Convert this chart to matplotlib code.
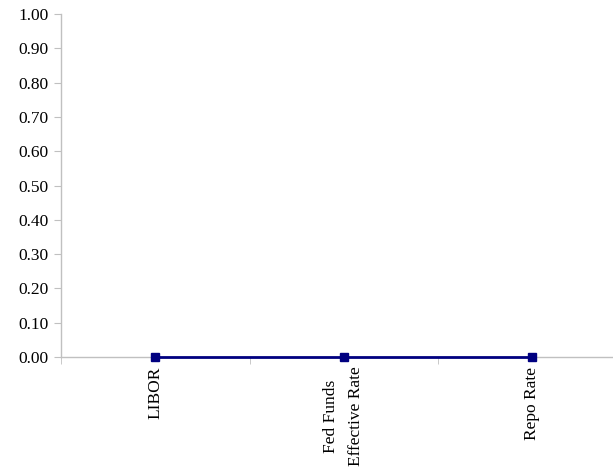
import matplotlib.pyplot as plt
import numpy as np

# Rate categories and values
categories = ['LIBOR', 'Fed Funds\nEffective Rate', 'Repo Rate']
values = [0.0, 0.0, 0.0]
y_ticks = [0.0, 0.1, 0.2, 0.3, 0.4, 0.5, 0.6, 0.7, 0.8, 0.9, 1.0]

plt.rcParams['font.family'] = ['Liberation Serif', 'DejaVu Serif']

fig = plt.figure(figsize=(6.13, 4.75), dpi=100)
# plot area runs a little past the right edge of the figure
ax = fig.add_axes([61 / 613, 1 - 357 / 475, 565.5 / 613, 343 / 475])

x = np.arange(len(categories))
ax.plot(x, values, color='#000080', linewidth=2, marker='s', markersize=6,
        clip_on=False, zorder=3)

ax.set_xlim(-0.5, len(categories) - 0.5)
ax.set_ylim(0, 1)
ax.set_yticks(y_ticks)
ax.set_yticklabels(['%.2f' % v for v in y_ticks])

ax.set_xticks(x)
ax.set_xticklabels(categories, rotation=90, va='top', ha='center',
                   multialignment='center', linespacing=1.75)
ax.set_xticks(np.arange(len(categories) + 1) - 0.5, minor=True)

for side in ['top', 'right']:
    ax.spines[side].set_visible(False)
for side in ['left', 'bottom']:
    ax.spines[side].set_color('#c0c0c0')
    ax.spines[side].set_linewidth(1)

ax.tick_params(axis='y', direction='out', length=5, color='#c0c0c0',
               labelsize=12.5, pad=4)
ax.tick_params(axis='x', which='major', length=0, labelsize=12.5, pad=7)
ax.tick_params(axis='x', which='minor', direction='out', length=5,
               color='#c0c0c0')

fig.savefig('out.png', dpi=100)
